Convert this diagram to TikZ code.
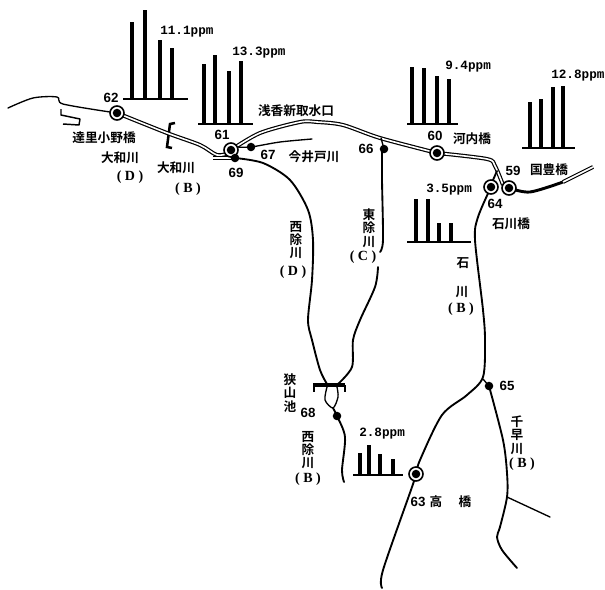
\documentclass[tikz,border=0pt]{standalone}
\usepackage{fontspec}
\setmainfont{Liberation Sans}
\newfontfamily\numfont{Liberation Sans Bold}
\newfontfamily\cjk{Noto Sans CJK JP Bold}
\newfontfamily\ppmfont{Liberation Mono Bold}
\newfontfamily\serifl{Liberation Serif Bold}
\newcommand{\vtxt}[3]{#1\\[-0.5pt]#2\\[-0.5pt]#3}
\tikzset{
  river/.style={line width=1.4pt,line join=round,line cap=round},
  thinriver/.style={line width=1pt,line join=round,line cap=round},
  canal/.style={line width=0.9pt,double=white,double distance=1.2pt,line join=round},
  ring/.style={circle,draw,fill=white,line width=1.2pt,minimum size=10.5pt,inner sep=0},
  dot/.style={circle,fill,minimum size=6.4pt,inner sep=0},
  bar/.style={line width=3.7pt},
  base/.style={line width=1pt},
  num/.style={font=\numfont\fontsize{10}{10}\selectfont,inner sep=0},
  ppm/.style={font=\ppmfont\fontsize{9.5}{10}\selectfont,inner sep=0},
  jp/.style={font=\cjk\fontsize{9.5}{10.5}\selectfont,inner sep=0,align=center},
  grade/.style={font=\serifl\fontsize{10.5}{11}\selectfont,inner sep=0},
}
\begin{document}
\begin{tikzpicture}[x=0.75pt,y=-0.75pt]
\useasboundingbox (0,0) rectangle (605,589);
% station positions
\coordinate (p59) at (509,188);
\coordinate (p60) at (437,153);
\coordinate (p61) at (231,150);
\coordinate (p62) at (117,113);
\coordinate (p63) at (416,474);
\coordinate (p64) at (491,187);
\coordinate (p65) at (489,386);
\coordinate (p66) at (384,149);
\coordinate (p67) at (251,147);
\coordinate (p68) at (337,416);
\coordinate (p69) at (235,158);
% Yamato river, left end
\draw[thinriver] plot[smooth,tension=0.5] coordinates {(8,108) (33,98) (57,97) (63,104) (110,112)};
\draw[line width=1.1pt,line join=round] (61,109) -- (61,115) -- (80,119) -- (79,125) -- (63,124);
\draw[line width=1.9pt] (175,123) -- (170,124) -- (167,147) -- (172,148);
% double channels
\draw[canal] plot[smooth,tension=0.5] coordinates {(p62) (167,133) (200,145) (217,155) (230,153)};
\draw[canal] (213,158) -- (p69);
\draw[canal] plot[smooth,tension=0.5] coordinates {(p61) (260,133) (300,122) (317,122) (343,125) (380,138) (p60)};
\draw[canal] plot[smooth,tension=0.5] coordinates {(p60) (487,159) (495,166) (503,185)};
% east
\draw[river] (493,180) -- (497,171);
\draw[line width=2.2pt,line cap=round] plot[smooth,tension=0.5] coordinates {(p59) (530,192) (563,182)};
\draw[canal] plot[smooth,tension=0.5] coordinates {(563,182) (577,175) (593,167)};
% Ishikawa
\draw[river] plot[smooth,tension=0.5] coordinates {(p64) (478,217) (475,240) (483,310) (485,340) (483,377) (467,395) (442,415) (420,460) (p63) (412,487) (383,570) (382,588)};
\draw[thinriver] (483,379) -- (p65);
% Chihaya
\draw[river] plot[smooth,tension=0.5] coordinates {(p65) (503,440) (507,473) (507,497) (500,527) (497,537) (502,550) (517,568)};
\coordinate (chj) at (507,497);
\draw[thinriver] (chj) -- (550,517);
% Imai
\draw[thinriver] plot[smooth,tension=0.5] coordinates {(238,147) (p67) (280,142) (312,139)};
% West (D)
\draw[river] plot[smooth,tension=0.5] coordinates {(p69) (263,163) (290,180) (308,210) (313,240) (312,280) (308,320) (312,340) (320,370) (327,384)};
% East (C)
\draw[thinriver] (381,138) -- (p66);
\draw[river] plot[smooth,tension=0.5] coordinates {(382,150) (382,180) (383,240) (380,252)};
\draw[river] plot[smooth,tension=0.5] coordinates {(378,267) (375,287) (360,320) (353,340) (352,367) (338,384)};
% Sayama pond
\draw[line width=3pt] (313,385) -- (345,385);
\draw[line width=1.5pt] (313.5,385) -- (313.5,392) (345,385) -- (345,392);
\draw[thinriver] plot[smooth,tension=0.5] coordinates {(327,387) (325,400) (333,408) (338,397) (337,387)};
\draw[river] plot[smooth,tension=0.5] coordinates {(333,408) (p68) (345,437) (342,470) (344,482)};
% bars
\foreach \by/\xa/\xb/\items in {
 99/123/188/{132/22,145/10,160/40,172/48},
 124/198/253/{204/64,215/55,229/71,241/61},
 124/407/458/{412/67,424/68,437/76,449/79},
 148/522/575/{530/102,541/99,553/87,563/86},
 242/407/471/{416/199,428/199,439/223,451/223},
 475/353/403/{360/453,369/445,380/454,393/459}}{
  \draw[base] (\xa,\by) -- (\xb,\by);
  \foreach \x/\t in \items { \draw[bar] (\x,\by) -- (\x,\t); }
}
% stations
\foreach \n in {59,60,61,62,63,64}{
  \node[ring] (r\n) at (p\n) {};
  \node[dot] (n\n) at (p\n) {};
}
\foreach \n in {65,66,67,68,69}{ \node[dot] (n\n) at (p\n) {}; }
% ppm labels
\node[ppm,anchor=west] (v1) at (160,32) {11.1ppm};
\node[ppm,anchor=west] (v2) at (232,53) {13.3ppm};
\node[ppm,anchor=west] (v3) at (445,67) {9.4ppm};
\node[ppm,anchor=west] (v4) at (551,76) {12.8ppm};
\node[ppm,anchor=west] (v5) at (426,190) {3.5ppm};
\node[ppm,anchor=west] (v6) at (359,434) {2.8ppm};
% numbers
\node[num] (t62) at (111,98) {62};
\node[num] (t61) at (222,135) {61};
\node[num] (t69) at (236,173) {69};
\node[num] (t67) at (268,155) {67};
\node[num] (t66) at (366,149) {66};
\node[num] (t60) at (435,136) {60};
\node[num] (t59) at (513,171) {59};
\node[num] (t64) at (495,204) {64};
\node[num] (t65) at (507,386) {65};
\node[num] (t68) at (308,413) {68};
\node[num] (t63) at (418,502) {63};
% names
\node[jp] (a1) at (104,138) {達里小野橋};
\node[jp] (a2) at (120,158) {大和川};
\node[grade] (a3) at (130,177) {( D )};
\node[jp] (b1) at (176,168) {大和川};
\node[grade] (b2) at (188,189) {( B )};
\node[jp] (c1) at (296,111) {浅香新取水口};
\node[jp] (c2) at (314,157) {今井戸川};
\node[jp] (d1) at (369,228) {\vtxt{東}{除}{川}};
\node[grade] (d2) at (363,257) {( C )};
\node[jp] (e1) at (296,240) {\vtxt{西}{除}{川}};
\node[grade] (e2) at (293,272) {( D )};
\node[jp] (f1) at (472,139) {河内橋};
\node[jp] (f2) at (549,170) {国豊橋};
\node[jp] (f3) at (511,224) {石川橋};
\node[jp] (g1) at (463,263) {石};
\node[jp] (g2) at (462,292) {川};
\node[grade] (g3) at (461,309) {( B )};
\node[jp] (h1) at (517,435) {\vtxt{千}{早}{川}};
\node[grade] (h2) at (522,464) {( B )};
\node[jp] (i1) at (290,393) {\vtxt{狭}{山}{池}};
\node[jp] (i2) at (308,450) {\vtxt{西}{除}{川}};
\node[grade] (i3) at (308,479) {( B )};
\node[jp] (j1) at (436,502) {高};
\node[jp] (j2) at (465,502) {橋};
\end{tikzpicture}
\end{document}
